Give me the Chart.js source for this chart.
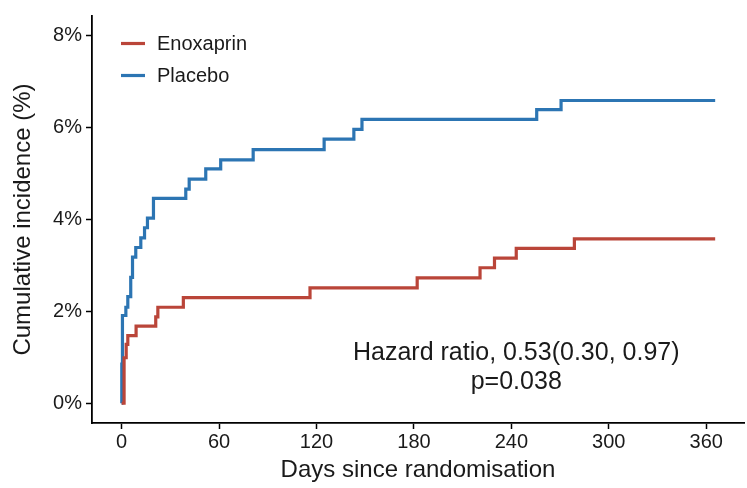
<!DOCTYPE html>
<html>
<head>
<meta charset="utf-8">
<script src="https://cdn.jsdelivr.net/npm/chart.js@4/dist/chart.umd.min.js"></script>
<style>
  html, body { margin: 0; padding: 0; background: #ffffff; }
  #wrap { width: 747px; height: 488px; }
</style>
</head>
<body>
<div id="wrap"><canvas id="c" width="747" height="488"></canvas></div>
<script>
// ---- data ----
const seriesNames = ['Enoxaprin', 'Placebo'];
const enoxDays = [0, 1.5, 2.8, 3.8, 8.9, 21, 22.3, 38, 116, 182, 220.7, 229.6, 243, 278.8, 365.5];
const enoxPct  = [0, 0.99, 1.28, 1.47, 1.68, 1.88, 2.09, 2.30, 2.51, 2.73, 2.95, 3.16, 3.37, 3.58, 3.58];
const placDays = [0, 0.1, 0.5, 2.6, 3.8, 5.6, 6.7, 8.7, 11.8, 14.1, 15.9, 19.6, 39.5, 41.6, 51.8, 61, 81, 124.7, 143, 148, 255.6, 270.6, 365.5];
const placPct  = [0, 0.85, 1.91, 2.09, 2.32, 2.74, 3.18, 3.39, 3.60, 3.82, 4.03, 4.46, 4.66, 4.88, 5.10, 5.30, 5.52, 5.75, 5.96, 6.18, 6.39, 6.59, 6.59];
const xTicks = [0, 60, 120, 180, 240, 300, 360];
const yTicks = [0, 2, 4, 6, 8];
const annotationLines = ['Hazard ratio, 0.53(0.30, 0.97)', 'p=0.038'];
const xTitle = 'Days since randomisation';
const yTitle = 'Cumulative incidence (%)';

const colors = ['#BA4539', '#2C75B3'];
const FONT = 'Liberation Sans, Arial, Helvetica, sans-serif';

function toPoints(xs, ys) { return xs.map((x, i) => ({ x: x, y: ys[i] })); }

const legendPlugin = {
  id: 'insideLegend',
  afterDraw(chart) {
    const ctx = chart.ctx;
    ctx.save();
    ctx.font = '20px ' + FONT;
    ctx.textBaseline = 'middle';
    ctx.fillStyle = '#1a1a1a';
    const ys = [43.5, 75.5];
    chart.data.datasets.forEach((ds, i) => {
      ctx.strokeStyle = ds.borderColor;
      ctx.lineWidth = 3.2;
      ctx.beginPath();
      ctx.moveTo(121, ys[i]);
      ctx.lineTo(145, ys[i]);
      ctx.stroke();
      ctx.fillText(ds.label, 157, ys[i] + 1);
    });
    ctx.restore();
  }
};

const annotationPlugin = {
  id: 'hrText',
  afterDraw(chart) {
    const ctx = chart.ctx;
    const xs = chart.scales.x;
    const ysc = chart.scales.y;
    ctx.save();
    ctx.font = '25px ' + FONT;
    ctx.fillStyle = '#1a1a1a';
    ctx.textAlign = 'center';
    ctx.textBaseline = 'middle';
    const cx = xs.getPixelForValue(243);
    ctx.fillText(annotationLines[0], cx, ysc.getPixelForValue(1.1));
    ctx.fillText(annotationLines[1], cx, ysc.getPixelForValue(0.45));
    ctx.restore();
  }
};

new Chart(document.getElementById('c'), {
  type: 'line',
  data: {
    datasets: [
      { label: seriesNames[0], data: toPoints(enoxDays, enoxPct), borderColor: colors[0], backgroundColor: colors[0] },
      { label: seriesNames[1], data: toPoints(placDays, placPct), borderColor: colors[1], backgroundColor: colors[1] }
    ]
  },
  options: {
    responsive: false,
    animation: false,
    devicePixelRatio: 1,
    layout: { padding: { left: 0, right: 3, top: 8, bottom: 0 } },
    elements: {
      line: { borderWidth: 3.2, stepped: 'before', tension: 0, borderCapStyle: 'butt', borderJoinStyle: 'miter' },
      point: { radius: 0, hoverRadius: 0 }
    },
    plugins: { legend: { display: false }, tooltip: { enabled: false } },
    scales: {
      x: {
        type: 'linear',
        min: -18.25,
        max: 383.25,
        afterBuildTicks: (s) => { s.ticks = xTicks.map(v => ({ value: v })); },
        afterFit: (s) => { s.height = 65; },
        ticks: { font: { family: FONT, size: 20 }, color: '#1a1a1a', padding: 1, maxRotation: 0, autoSkip: false },
        grid: { display: true, drawOnChartArea: false, drawTicks: true, tickLength: 6, tickColor: '#000', tickWidth: 1.5 },
        border: { display: true, color: '#000', width: 1.8 },
        title: { display: true, text: xTitle, font: { family: FONT, size: 24 }, color: '#1a1a1a', padding: { top: 0, bottom: 3 } }
      },
      y: {
        type: 'linear',
        min: -0.43,
        max: 8.43,
        afterBuildTicks: (s) => { s.ticks = yTicks.map(v => ({ value: v })); },
        afterFit: (s) => { s.width = 92; },
        ticks: { font: { family: FONT, size: 20 }, color: '#1a1a1a', padding: 4, callback: (v) => v + '%' },
        grid: { display: true, drawOnChartArea: false, drawTicks: true, tickLength: 6, tickColor: '#000', tickWidth: 1.5 },
        border: { display: true, color: '#000', width: 1.8 },
        title: { display: true, text: yTitle, font: { family: FONT, size: 24 }, color: '#1a1a1a', padding: { top: 9, bottom: 0 } }
      }
    }
  },
  plugins: [legendPlugin, annotationPlugin]
});
</script>
</body>
</html>
